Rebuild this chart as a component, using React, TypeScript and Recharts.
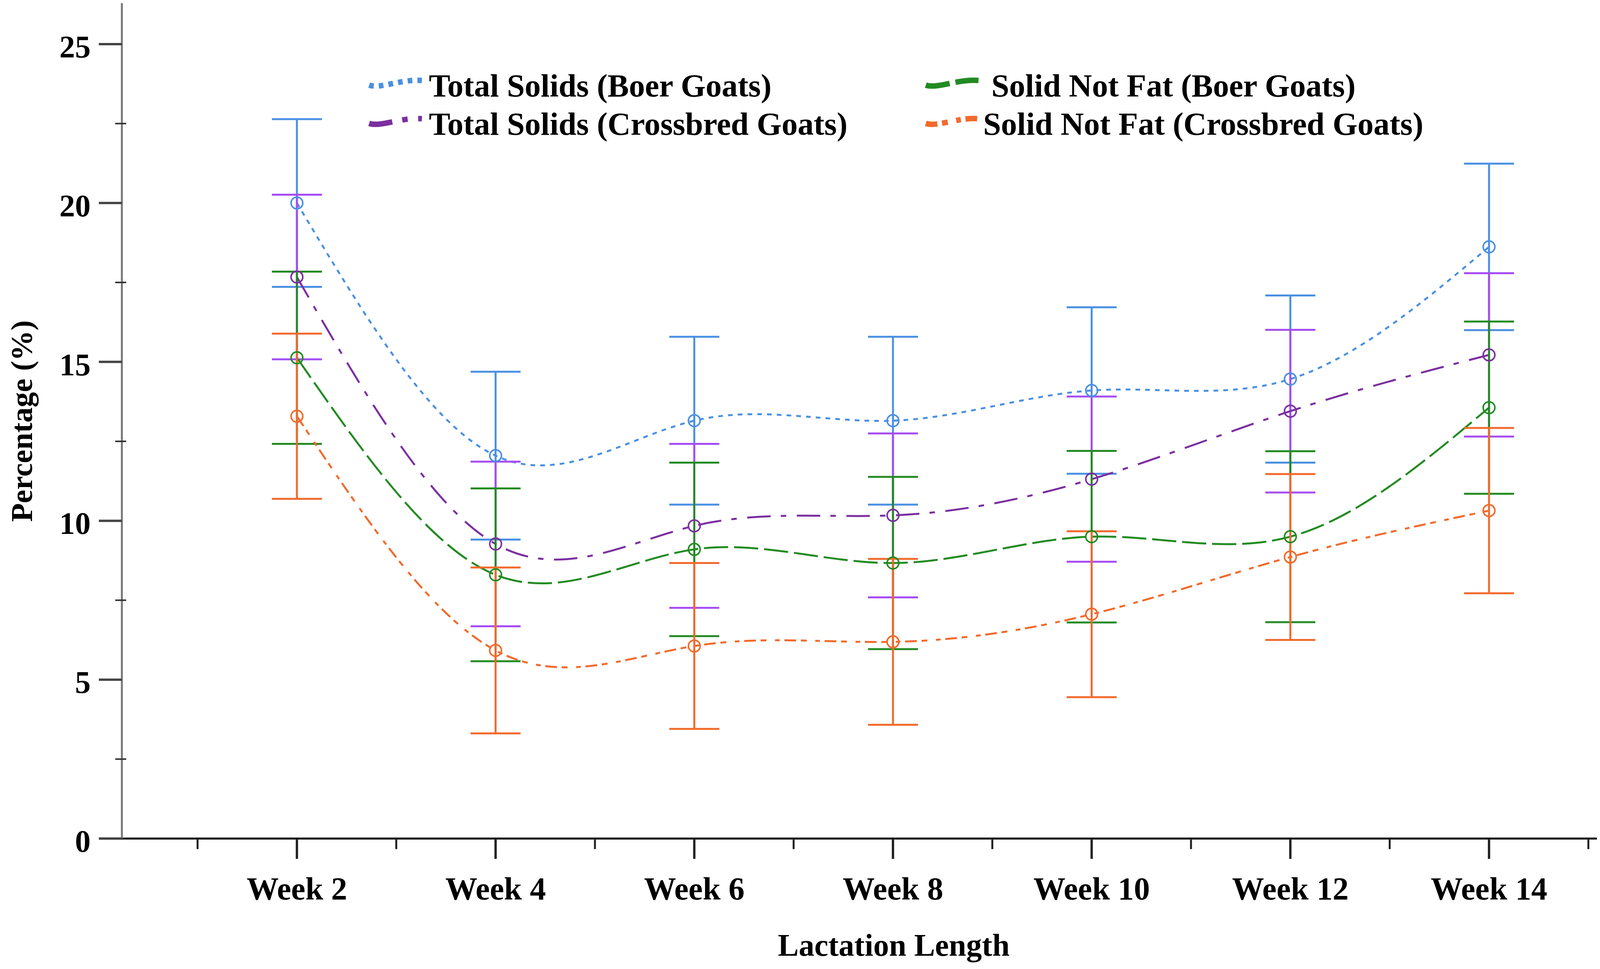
import React from 'react';
import { LineChart, Line, XAxis, YAxis, ErrorBar, Legend } from 'recharts';

// lactation weeks on the x axis
const weeks = [2, 4, 6, 8, 10, 12, 14];

// means and error bar half-lengths (%)
const tsBoer = [20.0, 12.05, 13.15, 13.15, 14.1, 14.46, 18.62];
const tsBoerErr = [2.64, 2.64, 2.64, 2.64, 2.62, 2.63, 2.62];
const tsCross = [17.67, 9.27, 9.84, 10.17, 11.31, 13.45, 15.22];
const tsCrossErr = [2.59, 2.59, 2.58, 2.58, 2.6, 2.56, 2.57];
const snfBoer = [15.13, 8.3, 9.1, 8.67, 9.5, 9.5, 13.56];
const snfBoerErr = [2.71, 2.72, 2.73, 2.71, 2.7, 2.69, 2.71];
const snfCross = [13.29, 5.92, 6.06, 6.19, 7.06, 8.86, 10.32];
const snfCrossErr = [2.6, 2.61, 2.61, 2.61, 2.61, 2.61, 2.6];

const yMajor = [0, 5, 10, 15, 20, 25];
const yMinor = [2.5, 7.5, 12.5, 17.5, 22.5];
const xMajor = weeks;
const xMinor = [1, 3, 5, 7, 9, 11, 13, 15];

const FONT = "'Liberation Serif', 'Times New Roman', serif";

const series = [
  { key: 'tsBoer', name: 'Total Solids (Boer Goats)', line: '#4a90e2', bar: '#4a90e2', dash: '12 13' },
  { key: 'tsCross', name: 'Total Solids (Crossbred Goats)', line: '#7b2fa0', bar: '#a64cf5', dash: '60 26 14 27' },
  { key: 'snfBoer', name: 'Solid Not Fat (Boer Goats)', line: '#228b22', bar: '#228b22', dash: '62 15' },
  { key: 'snfCross', name: 'Solid Not Fat (Crossbred Goats)', line: '#f26a2c', bar: '#f26a2c', dash: '30 12 15 22 12 12' },
];

const data = weeks.map((w, i) => ({
  week: w,
  tsBoer: tsBoer[i],
  tsBoerErr: tsBoerErr[i],
  tsCross: tsCross[i],
  tsCrossErr: tsCrossErr[i],
  snfBoer: snfBoer[i],
  snfBoerErr: snfBoerErr[i],
  snfCross: snfCross[i],
  snfCrossErr: snfCrossErr[i],
}));

function XTick(props: any) {
  const { x, y, payload } = props;
  const major = xMajor.includes(payload.value);
  return (
    <g>
      <line x1={x} x2={x} y1={y} y2={y + (major ? 52 : 27)} stroke="#222" strokeWidth={major ? 6 : 5} />
      {major && (
        <text x={x} y={y + 156} textAnchor="middle" fontFamily={FONT} fontWeight="bold" fontSize={82} fill="#000">
          {'Week ' + payload.value}
        </text>
      )}
    </g>
  );
}

function YTick(props: any) {
  const { x, y, payload } = props;
  const major = yMajor.includes(payload.value);
  if (!major) {
    return <line x1={x - 17} x2={x + 11} y1={y} y2={y} stroke="#333" strokeWidth={4} />;
  }
  return (
    <g>
      <line x1={x - 59} x2={x} y1={y} y2={y} stroke="#444" strokeWidth={6} />
      <text x={x - 80} y={y + 34} textAnchor="end" fontFamily={FONT} fontWeight="bold" fontSize={80} fill="#000">
        {payload.value}
      </text>
    </g>
  );
}

const YLabel = () => (
  <text
    x={74}
    y={1070}
    transform="rotate(-90, 74, 1070)"
    textAnchor="middle"
    fontFamily={FONT}
    fontWeight="bold"
    fontSize={78}
    fill="#000"
  >
    Percentage (%)
  </text>
);

const XLabel = () => (
  <text x={2280} y={2439} textAnchor="middle" fontFamily={FONT} fontWeight="bold" fontSize={80} fill="#000">
    Lactation Length
  </text>
);

// legend slots: [swatch x, text x, row centre y]
const legendPos = [
  [937, 1090, 204],
  [937, 1090, 302],
  [2362, 2530, 204],
  [2362, 2509, 302],
];

const LegendBox = () => (
  <svg width={4257} height={400} style={{ display: 'block' }}>
    {series.map((s, i) => {
      const [sx, tx, cy] = legendPos[i];
      return (
        <g key={s.key}>
          <path
            d={`M${sx},${cy + 6} C${sx + 30},${cy + 16} ${sx + 80},${cy - 10} ${sx + 135},${cy - 6}`}
            fill="none"
            stroke={s.line}
            strokeWidth={14}
            strokeDasharray={s.dash}
          />
          <text x={tx} y={cy + 35} fontFamily={FONT} fontWeight="bold" fontSize={82} fill="#000">
            {s.name}
          </text>
        </g>
      );
    })}
  </svg>
);

export default function App() {
  return (
    <LineChart width={4257} height={2465} data={data} margin={{ top: 0, right: 5, bottom: 0, left: 0 }}>
      <XAxis
        dataKey="week"
        type="number"
        domain={[0.238, 15.762]}
        allowDataOverflow
        ticks={[...xMinor, ...xMajor].sort((a, b) => a - b)}
        interval={0}
        height={326}
        tickSize={0}
        tickMargin={0}
        tickLine={false}
        tick={<XTick />}
        axisLine={{ stroke: '#000', strokeWidth: 5 }}
        label={<XLabel />}
      />
      <YAxis
        type="number"
        domain={[0, 26.29]}
        allowDataOverflow
        ticks={[...yMajor, ...yMinor].sort((a, b) => a - b)}
        interval={0}
        width={304}
        tickSize={0}
        tickMargin={0}
        tickLine={false}
        tick={<YTick />}
        axisLine={{ stroke: '#777', strokeWidth: 5 }}
        label={<YLabel />}
      />
      <Legend
        layout="vertical"
        align="center"
        verticalAlign="middle"
        wrapperStyle={{ position: 'absolute', left: 0, top: 0, width: 4257, height: 400 }}
        content={() => <LegendBox />}
      />
      {series.map((s) => (
        <Line
          key={s.key}
          dataKey={s.key}
          name={s.name}
          type="natural"
          stroke={s.line}
          strokeWidth={5}
          strokeDasharray={s.dash}
          dot={{ r: 15, stroke: s.line, strokeWidth: 4, fill: 'none', strokeDasharray: '' }}
          activeDot={false}
          isAnimationActive={false}
        >
          <ErrorBar dataKey={s.key + 'Err'} direction="y" width={64} stroke={s.bar} strokeWidth={5} isAnimationActive={false} />
        </Line>
      ))}
    </LineChart>
  );
}
